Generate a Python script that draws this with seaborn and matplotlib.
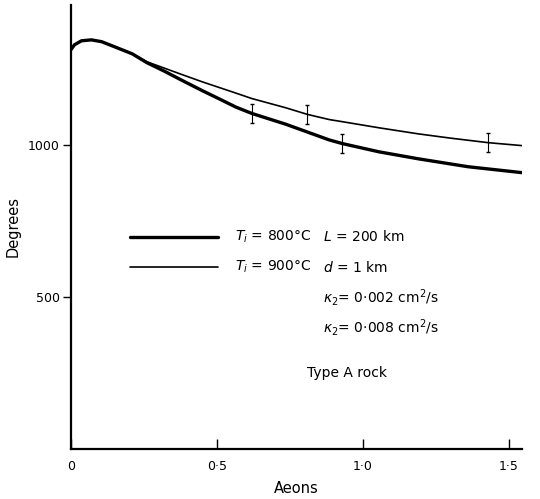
import numpy as np
import pandas as pd
import matplotlib
matplotlib.use("Agg")
import matplotlib.pyplot as plt
import seaborn as sns
from matplotlib.lines import Line2D

# ---- data ----
x_800 = [0.0, 0.012, 0.036, 0.07, 0.105, 0.15, 0.21, 0.26, 0.32, 0.38, 0.45, 0.51,
         0.565, 0.62, 0.735, 0.81, 0.885, 0.93, 1.055, 1.19, 1.36, 1.55]
y_800 = [1313, 1329, 1342, 1345, 1339, 1322, 1299, 1270, 1242, 1212, 1178, 1150,
         1124, 1103, 1068, 1042, 1016, 1004, 977, 954, 928, 908]
x_900 = [0.0, 0.012, 0.036, 0.07, 0.105, 0.15, 0.21, 0.26, 0.32, 0.38, 0.45, 0.565,
         0.62, 0.735, 0.81, 0.885, 0.93, 1.055, 1.19, 1.30, 1.43, 1.55]
y_900 = [1313, 1329, 1342, 1345, 1339, 1322, 1300, 1273, 1252, 1231, 1207, 1170,
         1152, 1122, 1100, 1083, 1076, 1056, 1036, 1022, 1007, 997]
err_x_800 = [0.62, 0.93]
err_y_800 = [1103, 1004]
err_x_900 = [0.81, 1.43]
err_y_900 = [1100, 1007]
err_half = 32
xticks = [0, 0.5, 1.0, 1.5]
xtick_labels = ["0", "0·5", "1·0", "1·5"]
yticks = [500, 1000]
ytick_labels = ["500", "1000"]

df = pd.concat([
    pd.DataFrame({"Aeons": x_800, "Degrees": y_800, "Ti": "800"}),
    pd.DataFrame({"Aeons": x_900, "Degrees": y_900, "Ti": "900"}),
])

sns.set_style("ticks", {"axes.edgecolor": "black", "text.color": "black",
                        "axes.labelcolor": "black", "xtick.color": "black",
                        "ytick.color": "black"})
plt.rcParams["font.family"] = ["DejaVu Sans"]
plt.rcParams["mathtext.fontset"] = "dejavusans"

fig = plt.figure(figsize=(5.4, 4.99), dpi=100)
ax = fig.add_axes([0.1315, 0.1002, 0.835, 0.89])

sns.lineplot(data=df[df.Ti == "900"], x="Aeons", y="Degrees", ax=ax,
             color="black", lw=1.2, legend=False)
sns.lineplot(data=df[df.Ti == "800"], x="Aeons", y="Degrees", ax=ax,
             color="black", lw=2.4, legend=False)
ax.errorbar(err_x_800, err_y_800, yerr=err_half, fmt="none", ecolor="black",
            elinewidth=0.8, capsize=1.5)
ax.errorbar(err_x_900, err_y_900, yerr=err_half, fmt="none", ecolor="black",
            elinewidth=0.8, capsize=1.5)

ax.set_xlim(0, 1.545)
ax.set_ylim(0, 1460)
ax.set_xticks(xticks)
ax.set_xticklabels(xtick_labels, fontsize=9)
ax.set_yticks(yticks)
ax.set_yticklabels(ytick_labels, fontsize=9)
ax.tick_params(axis="x", direction="in", length=7, width=1, pad=8)
ax.tick_params(axis="y", direction="out", length=6, width=1, pad=2)
for s in ["top", "right"]:
    ax.spines[s].set_visible(False)
for s in ["left", "bottom"]:
    ax.spines[s].set_linewidth(1.6)
ax.set_xlabel("Aeons", fontsize=10.5)
ax.set_ylabel("Degrees", fontsize=10.5)
ax.xaxis.set_label_coords(0.5, -0.072)
ax.yaxis.set_label_coords(-0.112, 0.5)

# legend / annotation block (figure coordinates)
fig.add_artist(Line2D([130/540, 218/540], [1-237/499, 1-237/499], color="black", lw=2.4))
fig.add_artist(Line2D([130/540, 218/540], [1-267/499, 1-267/499], color="black", lw=1.2))
fs = 10
fig.text(235/540, 1-237/499, r"$T_i$ = 800°C", fontsize=fs, va="center", ha="left")
fig.text(235/540, 1-267/499, r"$T_i$ = 900°C", fontsize=fs, va="center", ha="left")
fig.text(323/540, 1-237/499, r"$L$ = 200 km", fontsize=fs, va="center", ha="left")
fig.text(323/540, 1-267/499, r"$d$ = 1 km", fontsize=fs, va="center", ha="left")
fig.text(323/540, 1-297/499, r"$\kappa_2$= 0·002 cm$^2$/s", fontsize=fs, va="center", ha="left")
fig.text(323/540, 1-327/499, r"$\kappa_2$= 0·008 cm$^2$/s", fontsize=fs, va="center", ha="left")
fig.text(347/540, 1-373/499, "Type A rock", fontsize=fs, va="center", ha="center")

fig.savefig("out.png", dpi=100)
